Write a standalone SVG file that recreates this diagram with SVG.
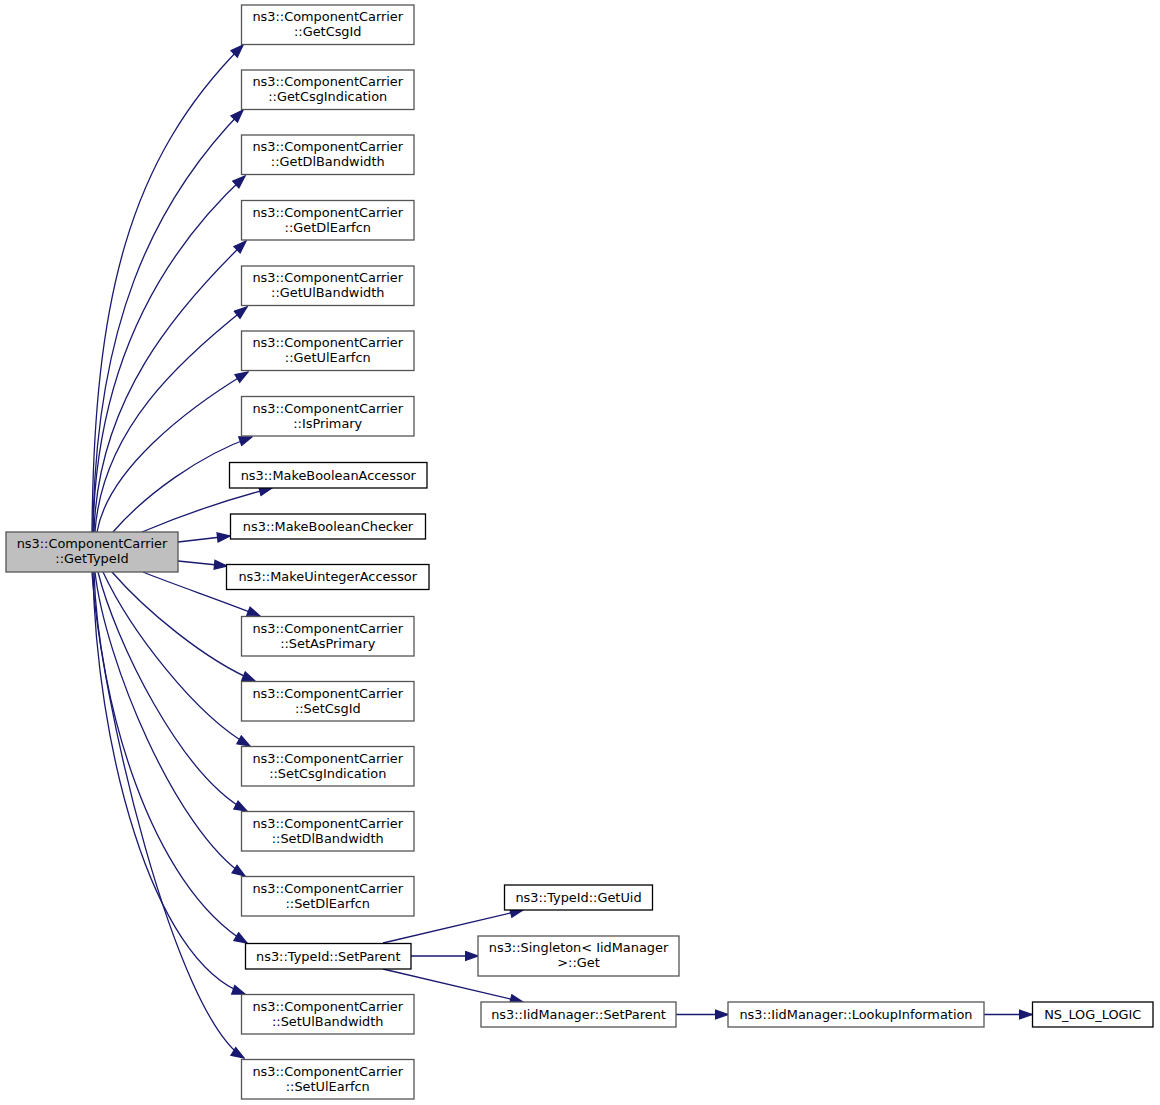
<svg xmlns="http://www.w3.org/2000/svg" width="1160" height="1105" viewBox="0 0 1160 1105">
<style>
.n rect{fill:#ffffff;stroke:#555555;stroke-width:1.3}
.n.b rect{stroke:#000000}
.n.m rect{fill:#bfbfbf;stroke:#555555}
.n text{font-family:"DejaVu Sans","Liberation Sans",sans-serif;font-size:12.9px;fill:#000000;text-anchor:middle}
.e path{fill:none;stroke:#191970;stroke-width:1.3;marker-end:url(#ah)}
</style>
<defs>
<marker id="ah" markerUnits="userSpaceOnUse" markerWidth="15" markerHeight="12" viewBox="-1 -1 15 12" refX="12.5" refY="4.5" orient="auto">
<path d="M0,0 L12.5,4.5 L0,9 Z" fill="#191970" stroke="#191970" stroke-width="1.3"/>
</marker>
</defs>
<rect width="1160" height="1105" fill="#ffffff"/>
<g id="edges" class="e">
<path d="M92,532 C94,300 128,160 243,45"/>
<path d="M93,532 C95,330 150,205 243,110"/>
<path d="M93,532 C96,360 165,250 245,176"/>
<path d="M94,532 C98,400 175,310 246,241"/>
<path d="M95,532 C102,430 180,360 247,307"/>
<path d="M97,532 C108,470 185,410 248,372"/>
<path d="M113,532 C145,495 200,455 252,437"/>
<path d="M142,532 C180,516 225,500 272,488"/>
<path d="M178,542 L230,536"/>
<path d="M178,561 L227,566"/>
<path d="M143,572 C175,585 220,600 260,616"/>
<path d="M112,572 C145,610 205,660 255,681"/>
<path d="M103,572 C130,630 195,715 250,746"/>
<path d="M98,572 C115,640 180,775 247,811"/>
<path d="M95,572 C105,660 175,830 245,876"/>
<path d="M94,572 C98,700 150,885 247,943"/>
<path d="M93,572 C96,740 150,960 245,994"/>
<path d="M92,572 C100,700 175,1015 244,1058"/>
<path d="M383,943 L523,910"/>
<path d="M411,956 L478,956"/>
<path d="M383,969 L523,1002"/>
<path d="M676,1014.5 L728,1014.5"/>
<path d="M984,1014.5 L1032,1014.5"/>
</g>
<g id="node_main" class="n m"><rect x="6" y="532" width="172" height="40"/><text x="92" y="548">ns3::ComponentCarrier</text><text x="92" y="563">::GetTypeId</text></g>
<g id="node_GetCsgId" class="n"><rect x="241.5" y="5" width="172.5" height="39.5"/><text x="327.75" y="21">ns3::ComponentCarrier</text><text x="327.75" y="36">::GetCsgId</text></g>
<g id="node_GetCsgIndication" class="n"><rect x="241.5" y="70" width="172.5" height="39.5"/><text x="327.75" y="86">ns3::ComponentCarrier</text><text x="327.75" y="101">::GetCsgIndication</text></g>
<g id="node_GetDlBandwidth" class="n"><rect x="241.5" y="135" width="172.5" height="39.5"/><text x="327.75" y="151">ns3::ComponentCarrier</text><text x="327.75" y="166">::GetDlBandwidth</text></g>
<g id="node_GetDlEarfcn" class="n"><rect x="241.5" y="200.5" width="172.5" height="39.5"/><text x="327.75" y="216.5">ns3::ComponentCarrier</text><text x="327.75" y="231.5">::GetDlEarfcn</text></g>
<g id="node_GetUlBandwidth" class="n"><rect x="241.5" y="266" width="172.5" height="39.5"/><text x="327.75" y="282">ns3::ComponentCarrier</text><text x="327.75" y="297">::GetUlBandwidth</text></g>
<g id="node_GetUlEarfcn" class="n"><rect x="241.5" y="331" width="172.5" height="39.5"/><text x="327.75" y="347">ns3::ComponentCarrier</text><text x="327.75" y="362">::GetUlEarfcn</text></g>
<g id="node_IsPrimary" class="n"><rect x="241.5" y="396.5" width="172.5" height="39.5"/><text x="327.75" y="412.5">ns3::ComponentCarrier</text><text x="327.75" y="427.5">::IsPrimary</text></g>
<g id="node_MakeBooleanAccessor" class="n b"><rect x="229.5" y="462.5" width="197.5" height="25.5"/><text x="328.25" y="479.5">ns3::MakeBooleanAccessor</text></g>
<g id="node_MakeBooleanChecker" class="n b"><rect x="230.5" y="514" width="195" height="25"/><text x="328" y="530.5">ns3::MakeBooleanChecker</text></g>
<g id="node_MakeUintegerAccessor" class="n b"><rect x="226.5" y="564.5" width="202.5" height="25"/><text x="327.75" y="581">ns3::MakeUintegerAccessor</text></g>
<g id="node_SetAsPrimary" class="n"><rect x="241.5" y="616.5" width="172.5" height="39.5"/><text x="327.75" y="632.5">ns3::ComponentCarrier</text><text x="327.75" y="647.5">::SetAsPrimary</text></g>
<g id="node_SetCsgId" class="n"><rect x="241.5" y="681.5" width="172.5" height="39.5"/><text x="327.75" y="697.5">ns3::ComponentCarrier</text><text x="327.75" y="712.5">::SetCsgId</text></g>
<g id="node_SetCsgIndication" class="n"><rect x="241.5" y="746.5" width="172.5" height="39.5"/><text x="327.75" y="762.5">ns3::ComponentCarrier</text><text x="327.75" y="777.5">::SetCsgIndication</text></g>
<g id="node_SetDlBandwidth" class="n"><rect x="241.5" y="811.5" width="172.5" height="39.5"/><text x="327.75" y="827.5">ns3::ComponentCarrier</text><text x="327.75" y="842.5">::SetDlBandwidth</text></g>
<g id="node_SetDlEarfcn" class="n"><rect x="241.5" y="876.5" width="172.5" height="39.5"/><text x="327.75" y="892.5">ns3::ComponentCarrier</text><text x="327.75" y="907.5">::SetDlEarfcn</text></g>
<g id="node_TypeId_SetParent" class="n b"><rect x="245.5" y="943.5" width="165.5" height="25.5"/><text x="328.25" y="960.5">ns3::TypeId::SetParent</text></g>
<g id="node_SetUlBandwidth" class="n"><rect x="241.5" y="994.5" width="172.5" height="39.5"/><text x="327.75" y="1010.5">ns3::ComponentCarrier</text><text x="327.75" y="1025.5">::SetUlBandwidth</text></g>
<g id="node_SetUlEarfcn" class="n"><rect x="241.5" y="1059.5" width="172.5" height="39.5"/><text x="327.75" y="1075.5">ns3::ComponentCarrier</text><text x="327.75" y="1090.5">::SetUlEarfcn</text></g>
<g id="node_TypeId_GetUid" class="n b"><rect x="504.5" y="885" width="148" height="25"/><text x="578.5" y="901.5">ns3::TypeId::GetUid</text></g>
<g id="node_Singleton_Get" class="n"><rect x="478" y="936" width="201" height="40"/><text x="578.5" y="952">ns3::Singleton&lt; IidManager</text><text x="578.5" y="967">&gt;::Get</text></g>
<g id="node_IidManager_SetParent" class="n"><rect x="481" y="1002" width="195" height="25"/><text x="578.5" y="1018.5">ns3::IidManager::SetParent</text></g>
<g id="node_LookupInformation" class="n"><rect x="728" y="1002" width="256" height="25"/><text x="856" y="1018.5">ns3::IidManager::LookupInformation</text></g>
<g id="node_NS_LOG_LOGIC" class="n b"><rect x="1032.5" y="1002" width="120.5" height="25"/><text x="1092.75" y="1018.5">NS_LOG_LOGIC</text></g>
</svg>
